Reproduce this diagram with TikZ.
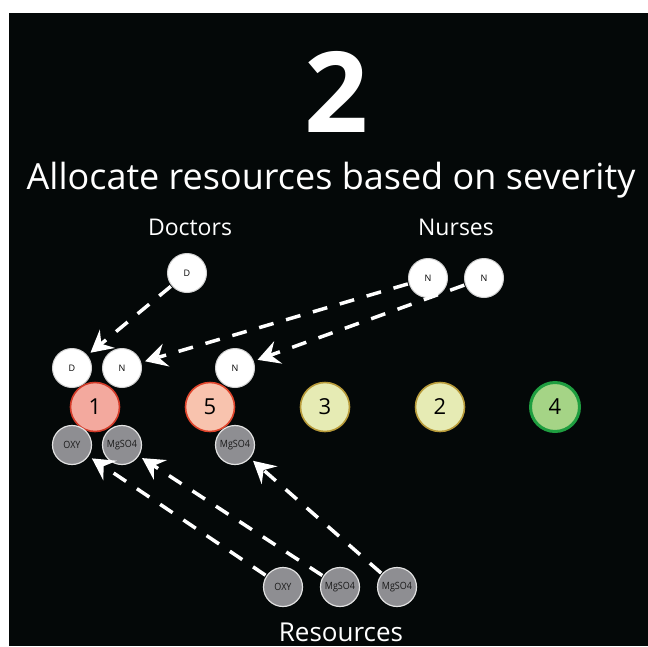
\documentclass[tikz,border=0pt]{standalone}
\usepackage{fontspec}
\setmainfont{Open Sans}
\usetikzlibrary{calc}
\definecolor{bg}{HTML}{040808}
\definecolor{resgray}{HTML}{8E8E92}
\definecolor{resedge}{HTML}{E2E2E2}
\definecolor{redfill}{HTML}{F3A99E}
\definecolor{rededge}{HTML}{D23A28}
\definecolor{peachfill}{HTML}{F8C3AE}
\definecolor{peachedge}{HTML}{E0452C}
\definecolor{yelfill}{HTML}{E6EBB4}
\definecolor{yeledge}{HTML}{B89B3A}
\definecolor{grnfill}{HTML}{A5D486}
\definecolor{grnedge}{HTML}{1F9E40}
\tikzset{
  person/.style={circle, draw=gray!35, line width=1pt, fill=white, minimum size=39pt, inner sep=0pt, text=black, font=\fontsize{9}{9}\selectfont},
  res/.style={circle, draw=resedge, line width=1.2pt, fill=resgray, minimum size=39pt, inner sep=0pt, text=black!90, font=\fontsize{10}{11}\selectfont},
  sev/.style={circle, minimum size=49pt, inner sep=0pt, line width=1.6pt, text=black, font=\fontsize{22}{22}\selectfont},
  lbl/.style={text=white, anchor=base, inner sep=0pt},
  arr/.style={draw=white, line width=3.5pt, dash pattern=on 15pt off 13pt, shorten <=1pt},
  headfill/.style={fill=white}
}
\newcommand{\nm}[1]{\scalebox{0.9}[1]{#1}}
\begin{document}
\begin{tikzpicture}[x=1pt,y=-1pt]
\useasboundingbox (0,0) rectangle (648,646);
\fill[white] (0,0) rectangle (648,646);
\fill[bg] (9,13) rectangle (648,646);
% headings
\node[lbl, font=\fontsize{112}{112}\selectfont\bfseries] (num) at (336,132) {2};
\node[lbl, font=\fontsize{36}{36}\selectfont] (title) at (331,189) {Allocate resources based on severity};
\node[lbl, font=\fontsize{23}{23}\selectfont] (doc) at (190,235) {Doctors};
\node[lbl, font=\fontsize{23}{23}\selectfont] (nur) at (456,235) {Nurses};
\node[lbl, font=\fontsize{26}{26}\selectfont] (resl) at (341,641) {Resources};
% pools
\node[person] (dtop) at (187,273) {D};
\node[person] (ntop1) at (428,278) {N};
\node[person] (ntop2) at (484,278) {N};
% assigned staff
\node[person] (d1) at (72,368) {D};
\node[person] (n1) at (122,368) {N};
\node[person] (n5) at (235,368) {N};
% severity
\node[sev, fill=redfill, draw=rededge] (s1) at (95,407) {1};
\node[sev, fill=peachfill, draw=peachedge] (s5) at (210,407) {5};
\node[sev, fill=yelfill, draw=yeledge] (s3) at (325,407) {3};
\node[sev, fill=yelfill, draw=yeledge] (s2) at (440,407) {2};
\node[sev, fill=grnfill, draw=grnedge, line width=3pt] (s4) at (555,407) {4};
% assigned resources
\node[res] (o1) at (72,445) {\nm{OXY}};
\node[res] (m1) at (122,445) {\nm{MgSO4}};
\node[res] (m5) at (235,445) {\nm{MgSO4}};
% resource pool
\node[res] (ob) at (283,587) {\nm{OXY}};
\node[res] (mb1) at (340,587) {\nm{MgSO4}};
\node[res] (mb2) at (397,587) {\nm{MgSO4}};
% arrows: dashed shafts with solid barbed heads
\foreach \a/\b in {dtop/d1, ntop1/n1, ntop2/n5, ob/o1, mb1/m1, mb2/m5}{
  \coordinate (T) at ($(\b)!24pt!(\a)$);
  \coordinate (B) at ($(T)!22pt!(\a)$);
  \coordinate (I) at ($(T)!14pt!(\a)$);
  \draw[arr] (\a) -- (I);
  \fill[headfill] (T) -- ($(B)!12pt!90:(T)$) -- (I) -- ($(B)!12pt!-90:(T)$) -- cycle;
}
\end{tikzpicture}
\end{document}
